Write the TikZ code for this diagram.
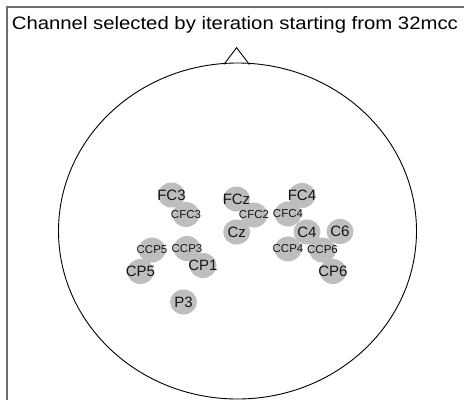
\documentclass[tikz,border=0pt]{standalone}
\usepackage{graphicx}
\usepackage{fontspec}
\setmainfont{Liberation Sans}
\usetikzlibrary{shapes.geometric}
\definecolor{electrode}{RGB}{190,190,190}
\definecolor{framegray}{RGB}{110,110,110}
\definecolor{labelink}{RGB}{20,20,20}
\begin{document}
\begin{tikzpicture}[x=1pt,y=-1pt,
  elec/.style={ellipse, fill=electrode, minimum width=27pt, minimum height=25pt, inner sep=0pt},
  lbig/.style={font=\fontsize{15}{15}\selectfont, text=labelink, inner sep=0pt},
  lsmall/.style={font=\fontsize{11.5}{11.5}\selectfont, text=labelink, inner sep=0pt},
  outline/.style={black, line width=0.9pt}]
\useasboundingbox (0,0) rectangle (464,400);

% axes frame (left and top edges only)
\draw[framegray, line width=1.3pt] (7,400) -- (7,7) -- (464,7);

% title
\node[anchor=base west, inner sep=0pt, font=\fontsize{18}{18}\selectfont] (title) at (11.7,29.3)
  {\resizebox{446pt}{\height}{Channel selected by iteration starting from 32mcc}};

% head and nose
\node[ellipse, draw=black, line width=0.9pt, minimum width=358pt, minimum height=336pt, inner sep=0pt] (head) at (237.5,231) {};
\coordinate (noseL) at (224,64.3);
\coordinate (noseTip) at (236.6,47.7);
\coordinate (noseR) at (249.4,64.5);
\draw[outline, line join=miter] (noseL) -- (noseTip) -- (noseR);

% electrode discs
\foreach \n/\x/\y in {fc3/171.5/195, cfc3/186/214.5, fcz/236.5/199, cfc2/254/215,
    cfc4/288/214, fc4/302/195.5, cz/236.7/232, c4/307/232, c6/340/231.5,
    ccp5/152/250, ccp3/187/248.5, ccp4/288/249, ccp6/322.5/250, cp1/203/265.5,
    cp5/140.5/271.5, cp6/333/271.5, p3/183.5/302}
  \node[elec] (\n) at (\x,\y) {};

% electrode labels
\foreach \n/\t/\s in {fc3/FC3/big, cfc3/CFC3/small, fcz/FCz/big, cfc2/CFC2/small,
    cfc4/CFC4/small, fc4/FC4/big, cz/Cz/big, c4/C4/big, c6/C6/big,
    ccp5/CCP5/small, ccp3/CCP3/small, ccp4/CCP4/small, ccp6/CCP6/small, cp1/CP1/big,
    cp5/CP5/big, cp6/CP6/big, p3/P3/big}
  \node[l\s] (\n-label) at (\n.center) {\t};
\end{tikzpicture}
\end{document}
